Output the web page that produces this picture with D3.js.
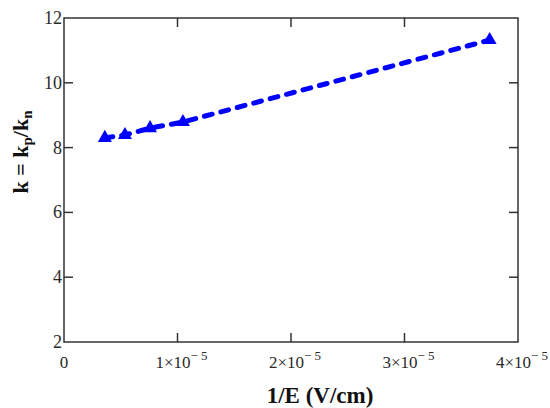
<!DOCTYPE html>
<html><head><meta charset="utf-8">
<script src="https://cdn.jsdelivr.net/npm/d3@7"></script>
<style>body{margin:0;background:#fff}svg{display:block}text{font-family:"Liberation Serif","Times New Roman",serif}</style>
</head><body><svg id="c" width="550" height="408"></svg>
<script>
const xValues = [0.36e-5, 0.537e-5, 0.758e-5, 1.048e-5, 3.75e-5];
const kValues = [8.30, 8.39, 8.60, 8.79, 11.32];
const xTicks = [0, 1e-5, 2e-5, 3e-5, 4e-5];
const xTickMant = ["0", "1", "2", "3", "4"];
const yTicks = [2, 4, 6, 8, 10, 12];

const svg = d3.select("#c");
const L = 64, R = 518, T = 18, B = 342;
const x = d3.scaleLinear().domain([0, 4e-5]).range([L, R]);
const y = d3.scaleLinear().domain([2, 12]).range([B, T]);

// frame
svg.append("rect").attr("x", L).attr("y", T).attr("width", R - L).attr("height", B - T)
  .attr("fill", "none").attr("stroke", "#333").attr("stroke-width", 1.5);

const tl = 9;
const g = svg.append("g").attr("stroke", "#333").attr("stroke-width", 1.5);
xTicks.slice(1, -1).forEach(t => {
  g.append("line").attr("x1", x(t)).attr("x2", x(t)).attr("y1", B).attr("y2", B - tl);
  g.append("line").attr("x1", x(t)).attr("x2", x(t)).attr("y1", T).attr("y2", T + tl);
});
yTicks.slice(1, -1).forEach(t => {
  g.append("line").attr("x1", L).attr("x2", L + tl).attr("y1", y(t)).attr("y2", y(t));
  g.append("line").attr("x1", R).attr("x2", R - tl).attr("y1", y(t)).attr("y2", y(t));
});

// y tick labels
yTicks.forEach(t => {
  svg.append("text").attr("x", L - 2).attr("y", y(t) + 6).attr("text-anchor", "end")
    .attr("font-size", 18).attr("fill", "#2a2a2a").text(t);
});
// x tick labels
xTicks.forEach((t, i) => {
  const tx = svg.append("text").attr("x", x(t) + (i === 0 ? 0 : 4)).attr("y", B + 26).attr("text-anchor", "middle")
    .attr("font-size", 17).attr("fill", "#2a2a2a");
  if (i === 0) { tx.text("0"); return; }
  tx.append("tspan").text(xTickMant[i] + "\u00d710");
  tx.append("tspan").attr("dy", -8).attr("font-size", 13).text("\u2212 5");
});

// axis titles
svg.append("text").attr("x", 320).attr("y", 403).attr("text-anchor", "middle")
  .attr("font-size", 23).attr("font-weight", "bold").attr("fill", "#111").text("1/E (V/cm)");
const yl = svg.append("text").attr("transform", "translate(28,152) rotate(-90)")
  .attr("text-anchor", "middle").attr("font-size", 22).attr("font-weight", "bold").attr("fill", "#111");
yl.append("tspan").text("k = k");
yl.append("tspan").attr("font-size", 15).attr("dy", 4).text("p");
yl.append("tspan").attr("dy", -4).text("/k");
yl.append("tspan").attr("font-size", 15).attr("dy", 4).text("n");

// data
const pts = xValues.map((v, i) => [v, kValues[i]]);
svg.append("path").datum(pts)
  .attr("d", d3.line().x(d => x(d[0])).y(d => y(d[1])))
  .attr("fill", "none").attr("stroke", "#0000ff").attr("stroke-width", 5)
  .attr("stroke-dasharray", "8,9").attr("stroke-linecap", "round");
svg.selectAll(".m").data(pts).enter().append("path")
  .attr("transform", d => "translate(" + x(d[0]) + "," + y(d[1]) + ")")
  .attr("d", d3.symbol(d3.symbolTriangle, 85)).attr("fill", "#0000ff");
</script></body></html>
